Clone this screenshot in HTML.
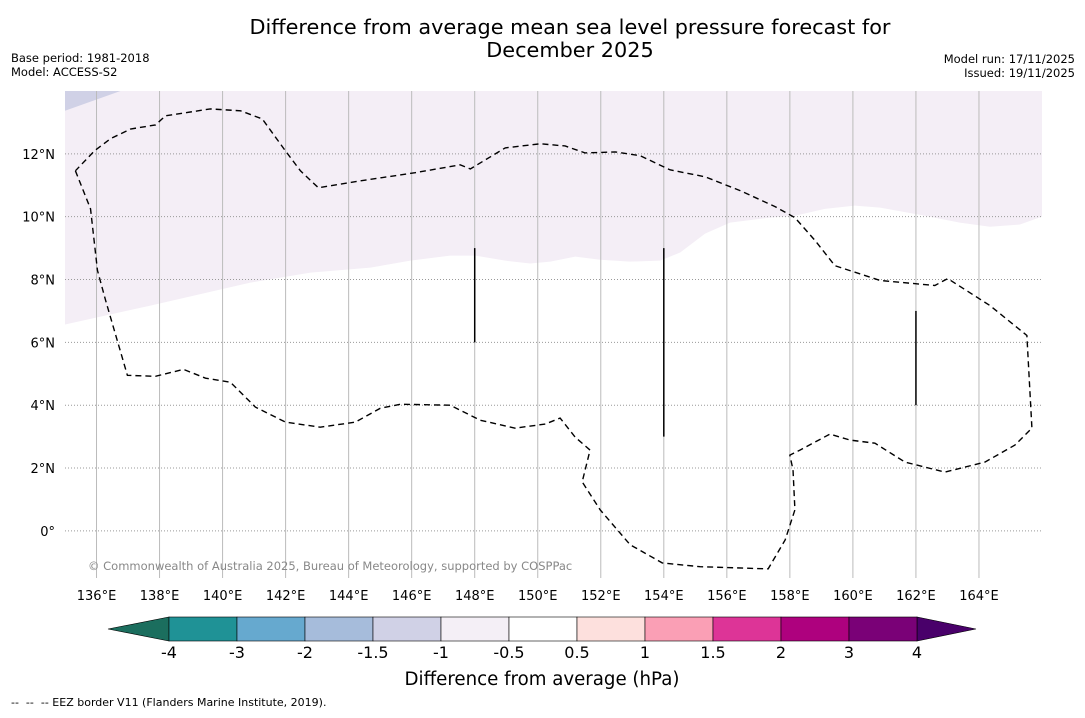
<!DOCTYPE html>
<html><head><meta charset="utf-8"><style>
body{margin:0;background:#fff;font-family:"Liberation Sans","DejaVu Sans",sans-serif}
svg text{font-family:"DejaVu Sans","Liberation Sans",sans-serif;white-space:pre}
</style></head><body>
<svg id="chart" width="1085" height="713" xmlns="http://www.w3.org/2000/svg">
<text x="570" y="34" font-size="20.8" text-anchor="middle">Difference from average mean sea level pressure forecast for</text>
<text x="570" y="57" font-size="20.8" text-anchor="middle">December 2025</text>
<text x="11" y="62" font-size="11.5">Base period: 1981-2018</text>
<text x="11" y="76" font-size="11.5">Model: ACCESS-S2</text>
<text x="1075" y="63" font-size="11.5" text-anchor="end">Model run: 17/11/2025</text>
<text x="1075" y="77" font-size="11.5" text-anchor="end">Issued: 19/11/2025</text>
<g id="map"></g>
<g id="cbar"></g>
<text x="542" y="685" font-size="18.2" text-anchor="middle">Difference from average (hPa)</text>
<text x="11" y="706" font-size="11" xml:space="preserve">--  --  -- EEZ border V11 (Flanders Marine Institute, 2019).</text>
</svg>
<script>
const lonTicks=[136,138,140,142,144,146,148,150,152,154,156,158,160,162,164];
const latTicks=[0,2,4,6,8,10,12];
const eezLon=[135.33,135.81,136.03,136.29,136.98,137.87,138.76,139.46,140.25,141.04,142.0,143.1,144.21,145.0,145.64,147.22,148.18,149.28,150.24,150.71,151.19,151.66,151.41,151.98,152.93,153.95,155.15,157.31,157.85,158.16,158.1,158.0,158.32,159.27,159.91,160.7,161.65,162.92,164.19,165.14,165.68,165.52,164.35,163.01,162.6,160.86,159.43,158.8,158.16,157.53,156.42,155.31,154.2,153.25,152.46,151.5,150.87,150.08,148.97,147.86,147.54,146.11,144.37,143.04,142.47,141.99,141.26,140.57,139.61,138.19,137.87,137.08,136.44,135.94,135.33];
const eezLat=[11.46,10.25,8.29,7.33,4.95,4.92,5.14,4.86,4.73,3.94,3.46,3.3,3.46,3.9,4.03,4.0,3.52,3.27,3.4,3.59,2.98,2.57,1.56,0.67,-0.44,-1.02,-1.14,-1.21,-0.29,0.67,1.94,2.41,2.57,3.08,2.89,2.79,2.19,1.87,2.19,2.73,3.27,6.22,7.17,8.03,7.81,7.97,8.44,9.24,9.97,10.32,10.83,11.27,11.49,11.94,12.06,12.03,12.25,12.32,12.19,11.52,11.65,11.4,11.14,10.92,11.46,12.1,13.11,13.37,13.43,13.21,12.92,12.79,12.48,12.1,11.46];
const shadeLon=[135.0,137.71,140.88,142.79,144.69,145.96,147.22,148.02,148.97,149.76,150.4,151.19,151.98,152.93,153.88,154.52,155.31,156.1,157.37,158.16,159.11,160.06,160.86,162.12,163.39,164.35,165.3,166.0];
const shadeLat=[6.57,7.17,7.9,8.22,8.38,8.6,8.76,8.76,8.6,8.51,8.57,8.73,8.63,8.57,8.6,8.86,9.46,9.81,9.97,10.03,10.25,10.35,10.29,10.06,9.81,9.68,9.75,10.0];
const darkLon=[135.0,136.76,135.0];
const darkLat=[14.0,14.0,13.37];
const barLon=[148,154,162];
const barLat0=[6,3,4];
const barLat1=[9,9,7];
const cbColors=['#1f9296','#66a9cf','#a6bcdb','#d0d1e6','#f4eff6','#ffffff','#fde0dd','#fa9fb5','#dd3497','#ae017e','#7a0177'];
const cbLabels=['-4','-3','-2','-1.5','-1','-0.5','0.5','1','1.5','2','3','4'];
const cbLow='#1b6e5e', cbHigh='#49006a';

const NS='http://www.w3.org/2000/svg';
const L=65,R=1042,T=91,B=578, lon0=135.0,lon1=166.0,lat0=-1.5,lat1=14.0;
const X=lon=>L+(lon-lon0)/(lon1-lon0)*(R-L);
const Y=lat=>B-(lat-lat0)/(lat1-lat0)*(B-T);
function mk(tag,attrs,parent){const e=document.createElementNS(NS,tag);for(const k in attrs)e.setAttribute(k,attrs[k]);parent.appendChild(e);return e;}
const map=document.getElementById('map');
const clip=mk('clipPath',{id:'mc'},mk('defs',{},map));
mk('rect',{x:L,y:T,width:R-L,height:B-T},clip);
const g=mk('g',{'clip-path':'url(#mc)'},map);
let d='M'+X(shadeLon[0])+','+Y(lat1);
shadeLon.forEach((v,i)=>d+=' L'+X(v)+','+Y(shadeLat[i]));
d+=' L'+X(lon1)+','+Y(lat1)+'Z';
const sh=mk('path',{d:d,fill:'#f4eef6'},g);


const dk=mk('polygon',{points:darkLon.map((v,i)=>X(v)+','+Y(darkLat[i])).join(' '),fill:'#d0d1e6'},g);


lonTicks.forEach(v=>{const l=mk('line',{x1:X(v),x2:X(v),y1:T,y2:B,stroke:'#bbb','stroke-width':1},g);

const t=mk('text',{x:X(v),y:600,'font-size':13,'text-anchor':'middle'},map);t.textContent=v+'°E';
});
latTicks.forEach(v=>{const l=mk('line',{x1:L,x2:R,y1:Y(v),y2:Y(v),stroke:'#999','stroke-width':1,'stroke-dasharray':'1,2'},g);

const t=mk('text',{x:55,y:Y(v)+5,'font-size':13,'text-anchor':'end'},map);t.textContent=v===0?'0°':v+'°N';
});
const ez=mk('polyline',{points:eezLon.map((v,i)=>X(v)+','+Y(eezLat[i])).join(' '),fill:'none',stroke:'#000','stroke-width':1.4,'stroke-dasharray':'6,4'},g);


barLon.forEach((v,i)=>{const l=mk('line',{x1:X(v),x2:X(v),y1:Y(barLat0[i]),y2:Y(barLat1[i]),stroke:'#000','stroke-width':1.5},g);
});
const cp=mk('text',{x:88,y:570,'font-size':11.5,fill:'#888'},map);
cp.textContent='© Commonwealth of Australia 2025, Bureau of Meteorology, supported by COSPPac';


const cb=document.getElementById('cbar');
const cx0=169,cx1=917,cy=617,ch=24,cw=(cx1-cx0)/cbColors.length;
const la=mk('polygon',{points:`108,${cy+ch/2} ${cx0},${cy} ${cx0},${cy+ch}`,fill:cbLow,stroke:'#000','stroke-width':0.6},cb);

const ra=mk('polygon',{points:`976,${cy+ch/2} ${cx1},${cy} ${cx1},${cy+ch}`,fill:cbHigh,stroke:'#000','stroke-width':0.6},cb);

cbColors.forEach((c,i)=>{const r=mk('rect',{x:cx0+i*cw,y:cy,width:cw,height:ch,fill:c,stroke:'#000','stroke-width':0.6},cb);
});
cbLabels.forEach((s,i)=>{const t=mk('text',{x:cx0+i*cw,y:658,'font-size':16,'text-anchor':'middle'},cb);t.textContent=s;
});
</script>
</body></html>
